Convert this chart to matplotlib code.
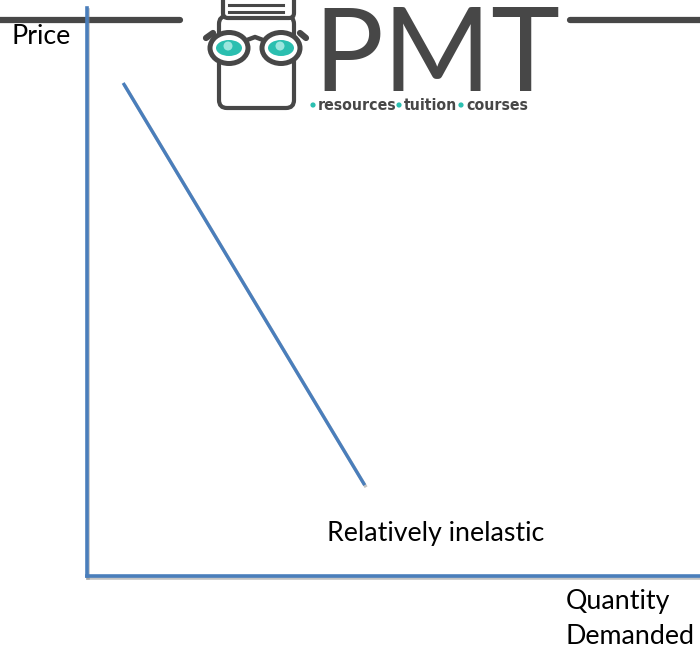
import matplotlib
matplotlib.use("Agg")
import matplotlib.pyplot as plt
from matplotlib.patches import Ellipse, FancyBboxPatch, Circle
import matplotlib.patheffects as pe

# Data (demand curve endpoints in axis units 0-100)
quantity = [5.9, 45.3]
price = [86.8, 16.0]
curve_label = "Relatively inelastic"
x_label_lines = ["Quantity", "Demanded"]
y_label = "Price"
tag_words = ["resources", "tuition", "courses"]

BLUE = "#4A7EBB"
GRAY = "#474747"
TEAL = "#2BBFB0"

fig = plt.figure(figsize=(7, 6.52), dpi=100)
W, H = 700, 652

# main chart axes: origin at pixel (87, 576)
ax = fig.add_axes([87 / W, (H - 576) / H, (W - 87) / W, (576 - 8) / H])
ax.set_xlim(0, 100)
ax.set_ylim(0, 100)
for s in ["top", "right"]:
    ax.spines[s].set_visible(False)
shadow = [pe.SimpleLineShadow(offset=(1, -1.5), shadow_color="#888888", alpha=0.5), pe.Normal()]
for s in ["left", "bottom"]:
    ax.spines[s].set_color(BLUE)
    ax.spines[s].set_linewidth(2.6)
    ax.spines[s].set_path_effects(shadow)
    ax.spines[s].set_zorder(5)
ax.set_xticks([])
ax.set_yticks([])
ax.patch.set_alpha(0)
ax.plot(quantity, price, color=BLUE, lw=2.4, solid_capstyle="butt", path_effects=shadow)

# overlay for text/logo in pixel coords
ov = fig.add_axes([0, 0, 1, 1], zorder=-1)
ov.set_xlim(0, W)
ov.set_ylim(H, 0)
ov.axis("off")

lab_font = ["Lato", "DejaVu Sans"]
fs = 19.3
fig.text(11 / W, 1 - 37 / H, y_label, fontsize=fs, family=lab_font, va="center", ha="left")
fig.text(327 / W, 1 - 533 / H, curve_label, fontsize=fs, family=lab_font, va="center", ha="left")
fig.text(566 / W, 1 - 602 / H, x_label_lines[0], fontsize=fs, family=lab_font, va="center", ha="left")
fig.text(566 / W, 1 - 636 / H, x_label_lines[1], fontsize=fs, family=lab_font, va="center", ha="left")

# logo header lines
ov.plot([0, 180], [20, 20], color=GRAY, lw=4.5, solid_capstyle="round")
ov.plot([570, 700], [20, 20], color=GRAY, lw=4.5, solid_capstyle="round")

# book body
ov.add_patch(FancyBboxPatch((219, 16), 75, 92, boxstyle="round,pad=0,rounding_size=8",
                            fc="white", ec=GRAY, lw=3))
# top book
ov.add_patch(FancyBboxPatch((223, -6), 71, 24, boxstyle="round,pad=0,rounding_size=5",
                            fc="white", ec=GRAY, lw=3))
ov.plot([229, 283], [5, 5], color=GRAY, lw=2.2)
ov.plot([229, 283], [12, 12], color=GRAY, lw=2.2)
# temples
ov.plot([206, 213], [38, 33], color=GRAY, lw=4.5, solid_capstyle="round")
ov.plot([300, 306], [33, 38], color=GRAY, lw=4.5, solid_capstyle="round")
# lenses
for cx in (229, 281):
    ov.add_patch(Ellipse((cx, 48), 38, 31, fc="white", ec=GRAY, lw=3.6))
    ov.add_patch(Ellipse((cx, 48), 26, 16, fc=TEAL, ec="none"))
    ov.add_patch(Circle((cx - 1, 46), 4.5, fc="#9BE6DE", ec="none"))
# bridge
ov.plot([247, 255, 263], [40, 37, 40], color=GRAY, lw=3.2)

# PMT text
fig.text(313 / W, 1 - 91 / H, "PMT", fontsize=84, family=["Lato", "DejaVu Sans"],
         fontweight="normal", color=GRAY, ha="left", va="baseline")

tag_font = ["DejaVu Sans"]
for dx, word in zip((318, 404, 466), tag_words):
    fig.text(dx / W, 1 - 110 / H, word, fontsize=11.3, family=tag_font, fontweight="bold",
             fontstretch="condensed", color=GRAY, ha="left", va="baseline")
for dx in (313, 399, 461):
    ov.add_patch(Circle((dx, 105), 2.6, fc=TEAL, ec="none"))

fig.savefig("out.png", dpi=100)
